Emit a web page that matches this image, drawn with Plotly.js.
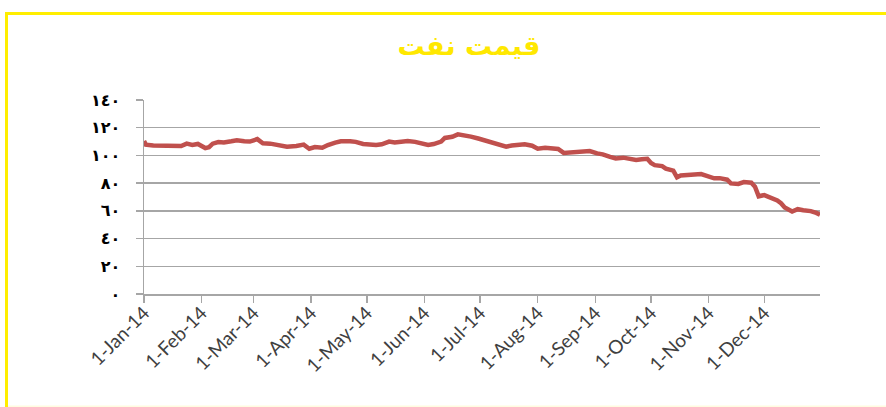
<!DOCTYPE html>
<html>
<head>
<meta charset="utf-8">
<script src="https://cdn.plot.ly/plotly-3.0.1.min.js"></script>
<style>
html,body{margin:0;padding:0;background:#fff;}
#chart{width:886px;height:407px;}
</style>
</head>
<body>
<div id="chart"></div>
<script>
// Oil price 2014
const dates = [
"2014-01-01","2014-01-02","2014-01-06","2014-01-10","2014-01-14","2014-01-17","2014-01-21","2014-01-24","2014-01-27","2014-01-30",
"2014-02-03","2014-02-05","2014-02-07","2014-02-10","2014-02-13","2014-02-17","2014-02-20","2014-02-24","2014-02-27",
"2014-03-03","2014-03-06","2014-03-10","2014-03-14","2014-03-19","2014-03-24","2014-03-28","2014-03-31",
"2014-04-03","2014-04-07","2014-04-10","2014-04-14","2014-04-17","2014-04-22","2014-04-25","2014-04-29",
"2014-05-02","2014-05-06","2014-05-09","2014-05-13","2014-05-16","2014-05-20","2014-05-23","2014-05-27","2014-05-30",
"2014-06-03","2014-06-06","2014-06-10","2014-06-12","2014-06-16","2014-06-19","2014-06-23","2014-06-26","2014-06-30",
"2014-07-03","2014-07-07","2014-07-10","2014-07-15","2014-07-18","2014-07-22","2014-07-25","2014-07-29",
"2014-08-01","2014-08-05","2014-08-08","2014-08-12","2014-08-15","2014-08-19","2014-08-22","2014-08-26","2014-08-29",
"2014-09-02","2014-09-05","2014-09-09","2014-09-12","2014-09-16","2014-09-19","2014-09-23","2014-09-26","2014-09-29",
"2014-10-01","2014-10-03","2014-10-07","2014-10-09","2014-10-13","2014-10-15","2014-10-17","2014-10-21","2014-10-24","2014-10-28","2014-10-31",
"2014-11-04","2014-11-07","2014-11-11","2014-11-13","2014-11-17","2014-11-20","2014-11-24","2014-11-26","2014-11-28",
"2014-12-01","2014-12-04","2014-12-08","2014-12-10","2014-12-12","2014-12-16","2014-12-19","2014-12-22","2014-12-24","2014-12-26","2014-12-29","2014-12-31"
];
const prices = [
110.5,107.8,107.2,107.0,106.8,107.3,106.8,108.5,107.6,108.3,
105.3,106.0,108.5,109.6,109.3,110.2,111.0,110.2,110.0,
111.8,108.8,108.5,107.5,106.3,106.8,107.8,104.8,
106.0,105.5,107.5,109.2,110.2,110.3,109.8,108.3,
107.8,107.6,108.0,110.0,109.4,110.0,110.4,109.8,108.8,
107.5,108.2,110.0,112.6,113.5,115.2,114.5,113.6,112.2,
111.0,109.3,107.8,106.3,107.2,107.3,108.0,107.0,
104.8,105.6,105.3,104.7,101.8,102.3,102.6,102.8,103.2,
101.5,100.8,99.0,97.8,98.4,97.5,96.8,97.3,97.6,
94.5,93.0,92.3,90.5,89.0,84.2,85.5,85.8,85.6,86.6,85.3,
83.5,83.6,82.5,79.8,79.4,80.8,80.3,77.5,70.5,
71.4,69.8,67.5,65.5,62.5,59.5,61.2,60.5,60.2,59.8,58.5,57.2
];
const xTickVals = ["2014-01-01","2014-02-01","2014-03-01","2014-04-01","2014-05-01","2014-06-01",
                   "2014-07-01","2014-08-01","2014-09-01","2014-10-01","2014-11-01","2014-12-01"];
const xTickText = ["1-Jan-14","1-Feb-14","1-Mar-14","1-Apr-14","1-May-14","1-Jun-14",
                   "1-Jul-14","1-Aug-14","1-Sep-14","1-Oct-14","1-Nov-14","1-Dec-14"];
const yTickVals = [0,20,40,60,80,100,120,140];
const yTickText = ["٠","٢٠","٤٠","٦٠","٨٠","١٠٠","١٢٠","١٤٠"];
const chartTitle = "قیمت نفت";

const trace = {
  x: dates, y: prices, type: "scatter", mode: "lines",
  line: {color: "#C0504D", width: 4.5},
  hoverinfo: "skip"
};

const L = 144, R = 66, T = 100, B = 113;
const pw = 886 - L - R, ph = 407 - T - B;
const px = v => (v - L) / pw;
const py = v => (407 - B - v) / ph;

const layout = {
  width: 886, height: 407,
  margin: {l: L, r: R, t: T, b: B, pad: 0},
  paper_bgcolor: "#ffffff", plot_bgcolor: "#ffffff",
  showlegend: false,
  title: {
    text: "<b>" + chartTitle + "</b>",
    font: {family: "DejaVu Sans", size: 27, color: "#FFE800"},
    xref: "container", x: 469/886, xanchor: "center",
    yref: "container", y: 1 - 46/407, yanchor: "middle"
  },
  xaxis: {
    type: "date",
    range: ["2014-01-01", "2014-12-31"],
    tickmode: "array", tickvals: xTickVals, ticktext: xTickText,
    tickangle: -45,
    ticks: "outside", ticklen: 7, tickwidth: 1.5, tickcolor: "#A6A6A6",
    showline: true, linecolor: "#A6A6A6", linewidth: 1.5,
    showgrid: false, zeroline: false,
    ticklabelstandoff: -8,
    tickfont: {family: "Lato, 'Open Sans', sans-serif", size: 19, color: "#404040"}
  },
  yaxis: {
    range: [0, 140],
    tickmode: "array", tickvals: yTickVals, ticktext: yTickText,
    ticks: "outside", ticklen: 7, tickwidth: 1.5, tickcolor: "#A6A6A6",
    showline: true, linecolor: "#A6A6A6", linewidth: 1.5,
    showgrid: true, gridcolor: "#A6A6A6", gridwidth: 1.5,
    zeroline: false,
    ticklabelstandoff: 12,
    tickfont: {family: "DejaVu Sans", size: 16, color: "#000000", weight: "bold"}
  },
  shapes: [
    {type: "line", xref: "paper", yref: "paper", x0: px(6.5), x1: px(6.5), y0: py(12), y1: py(420),
     line: {color: "#FFEE00", width: 3}},
    {type: "line", xref: "paper", yref: "paper", x0: px(5), x1: px(900), y0: py(13.5), y1: py(13.5),
     line: {color: "#FFEE00", width: 3}},
    {type: "line", xref: "paper", yref: "paper", x0: px(8), x1: px(900), y0: py(406.5), y1: py(406.5),
     line: {color: "#FFFCE0", width: 2}}
  ]
};

Plotly.newPlot("chart", [trace], layout, {displayModeBar: false, staticPlot: true});
</script>
</body>
</html>
